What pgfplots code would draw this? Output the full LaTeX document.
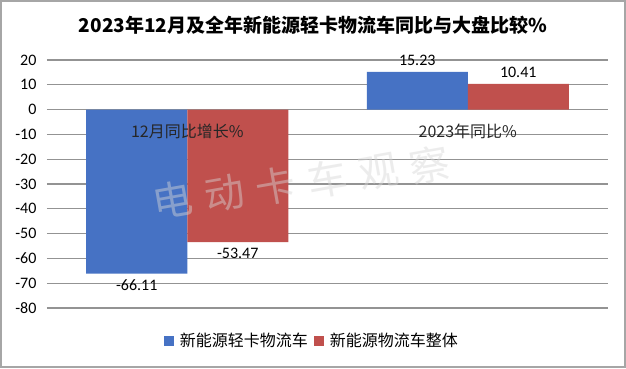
\documentclass[border=0pt]{standalone}
\usepackage{fontspec}
\setmainfont{Carlito}
\newfontfamily\cjk{Noto Sans CJK SC}
\usepackage{pgfplots}
\pgfplotsset{compat=1.18}
\definecolor{bblue}{RGB}{70,114,196}
\definecolor{bred}{RGB}{192,80,77}
\definecolor{wm}{RGB}{215,215,215}
\begin{document}
\begin{tikzpicture}[x=1pt,y=1pt]
\useasboundingbox (0,0) rectangle (626,368);
\fill[white] (0,0) rectangle (626,368);
\draw[gray!70, line width=2] (1,1) rectangle (625,367);
\node[font=\cjk\bfseries\fontsize{19}{22}\selectfont] at (313,343) {2023年12月及全年新能源轻卡物流车同比与大盘比较\%};
\begin{axis}[at={(47pt,60pt)}, anchor=south west, scale only axis,
  width=561pt, height=248pt,
  xmin=-0.5, xmax=1.5, ymin=-80, ymax=20, ytick={-80,-70,...,20},
  xtick=\empty,
  ymajorgrids, major grid style={draw=gray!85, line width=1.1pt},
  axis line style={draw=none}, tick style={draw=none},
  /pgf/number format/assume math mode=true,
  yticklabel style={font=\fontsize{16}{18}\selectfont, xshift=-7pt},
  ybar=0pt, bar width=101pt,
  nodes near coords,
  nodes near coords style={font=\fontsize{16}{18}\selectfont, /pgf/number format/fixed, /pgf/number format/precision=2, /pgf/number format/fixed zerofill, /pgf/number format/assume math mode=true, inner sep=6pt},
  legend style={at={(0.472,-0.133)}, anchor=center, draw=none, fill=none, legend columns=2,
    font=\cjk\fontsize{16}{18}\selectfont, column sep=4pt},
  legend image code/.code={\fill[#1] (0pt,-5pt) rectangle (10pt,5pt);},
  clip=false,
]
\addplot[fill=bblue, draw=none] coordinates {(0,-66.11) (1,15.23)};
\addplot[fill=bred, draw=none] coordinates {(0,-53.47) (1,10.41)};
\legend{新能源轻卡物流车, 新能源物流车整体}
\node[font=\cjk\fontsize{16}{18}\selectfont, text=black!85, inner sep=0pt] at (axis cs:0,-8.9) {12月同比增长\%};
\node[font=\cjk\fontsize{16}{18}\selectfont, text=black!85, inner sep=0pt] at (axis cs:1,-8.9) {2023年同比\%};
\end{axis}
\begin{scope}[every node/.style={font=\cjk\fontsize{40}{44}\selectfont, text=wm, text opacity=0.45, rotate=10, inner sep=0pt}]
\node at (173,168) {电};
\node at (224.4,175) {动};
\node at (275.8,182) {卡};
\node at (327.2,189) {车};
\node at (378.6,196) {观};
\node at (430,203) {察};
\end{scope}
\end{tikzpicture}
\end{document}
